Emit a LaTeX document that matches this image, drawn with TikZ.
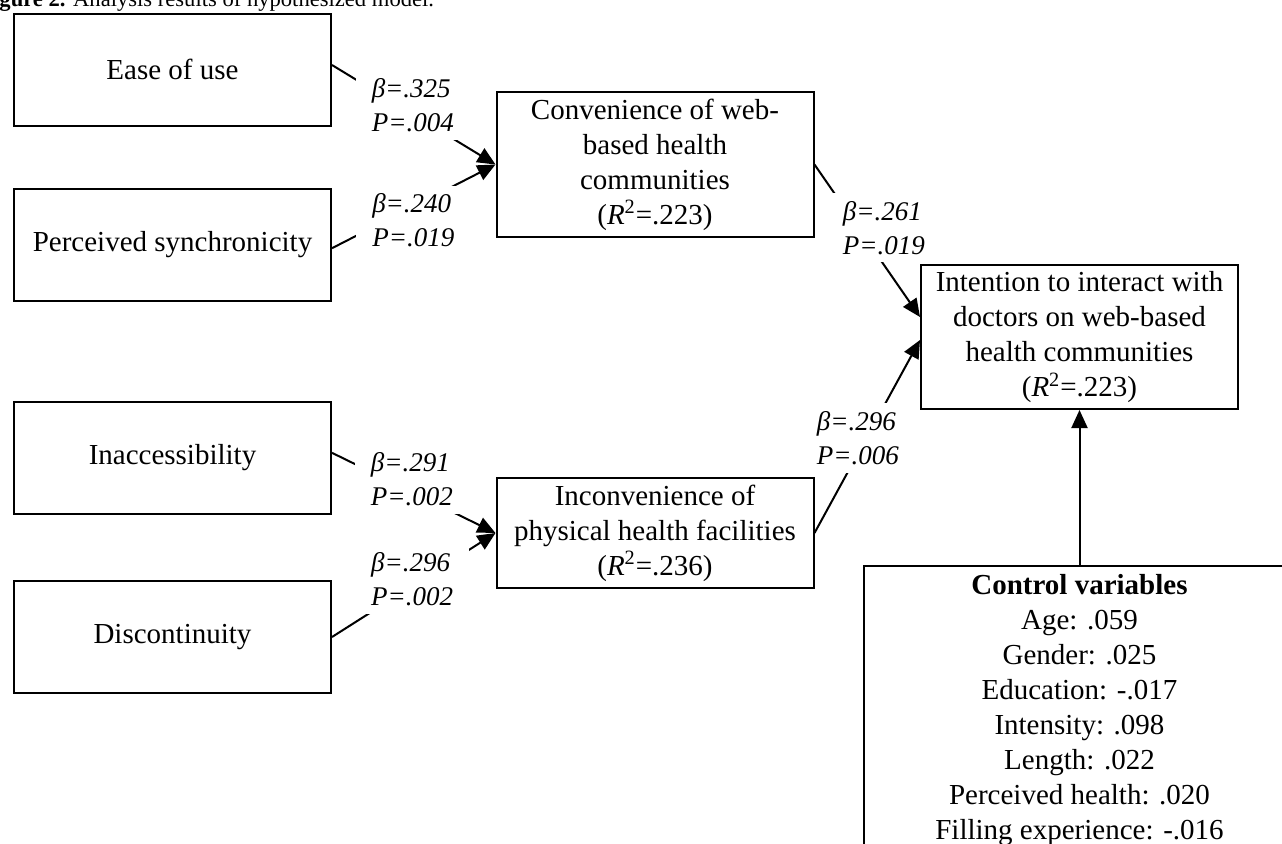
\documentclass[tikz,border=0pt]{standalone}
\usepackage{fontspec}
\setmainfont{Liberation Serif}
\usetikzlibrary{positioning,arrows.meta}
\pgfdeclarelayer{background}
\pgfsetlayers{background,main}

\begin{document}
\begin{tikzpicture}[x=0.5pt,y=-0.5pt]
	\tikzstyle{factor} = [rectangle, draw, line width=1pt, minimum width=158.5pt, align=center, inner sep=1pt, font=\fontsize{14.5pt}{17.5pt}\selectfont]
	\tikzstyle{coef} = [fill=white, inner xsep=8pt, inner ysep=4pt, align=left, font=\fontsize{13.5pt}{17pt}\selectfont\itshape]
	\tikzstyle{effect} = [line width=1pt, -{Triangle[length=9pt, width=8pt]}]
	
	\useasboundingbox (0,0) rectangle (1282,843);
	\clip (0,0) rectangle (1282,843);
	
	\node[anchor=base west, inner sep=0, font=\fontsize{11.3pt}{13pt}\selectfont] (caption) at (-21,6) {\textbf{Figure 2.} Analysis results of hypothesized model.};
	
	\node[factor, minimum height=56pt] (ease) at (172.5,69.5) {Ease of use};
	\node[factor, minimum height=56pt, below=30.5pt of ease] (synch) {Perceived synchronicity};
	\node[factor, minimum height=56pt, below=49.75pt of synch] (inacc) {Inaccessibility};
	\node[factor, minimum height=56pt, below=32.5pt of inacc] (discont) {Discontinuity};
	
	\node[factor, minimum height=72.5pt] (conv) at (655,164.5) {Convenience of web-\\based health\\communities\\(\textit{R}\textsuperscript{2}=.223)};
	\node[factor, minimum height=55pt, below=119.5pt of conv] (incon) {Inconvenience of\\physical health facilities\\(\textit{R}\textsuperscript{2}=.236)};
	
	\node[factor, minimum height=72pt] (intent) at (1079.5,337) {Intention to interact with\\doctors on web-based\\health communities\\(\textit{R}\textsuperscript{2}=.223)};
	\node[factor, minimum width=216pt, inner ysep=4pt, text depth=40pt, below=77.5pt of intent] (ctrl) {\textbf{Control variables}\\Age: .059\\Gender: .025\\Education: -.017\\Intensity: .098\\Length: .022\\Perceived health: .020\\Filling experience: -.016};
	
	\begin{pgfonlayer}{background}
	\draw[effect] ([yshift=2.25pt]ease.east) -- node[coef, pos=0.494, yshift=4.45pt] {β=.325\\P=.004} (conv.west);
	\draw[effect] ([yshift=-1.85pt]synch.east) -- node[coef, pos=0.497, yshift=-7pt] {β=.240\\P=.019} (conv.west);
	\draw[effect] ([yshift=2.6pt]inacc.east) -- node[coef, pos=0.489, yshift=6.35pt] {β=.291\\P=.002} (incon.west);
	\draw[effect] (discont.east) -- node[coef, pos=0.49, yshift=3.5pt] {β=.296\\P=.002} (incon.west);
	
	\draw[effect] (conv.east) -- node[coef, pos=0.657, yshift=18.5pt] {β=.261\\P=.019} ([yshift=10pt]intent.west);
	\draw[effect] (incon.east) -- node[coef, pos=0.412, yshift=7.7pt] {β=.296\\P=.006} ([yshift=-1.5pt]intent.west);
	
	\draw[effect] (ctrl.north) -- (intent.south);
	\end{pgfonlayer}
	
\end{tikzpicture}
\end{document}
